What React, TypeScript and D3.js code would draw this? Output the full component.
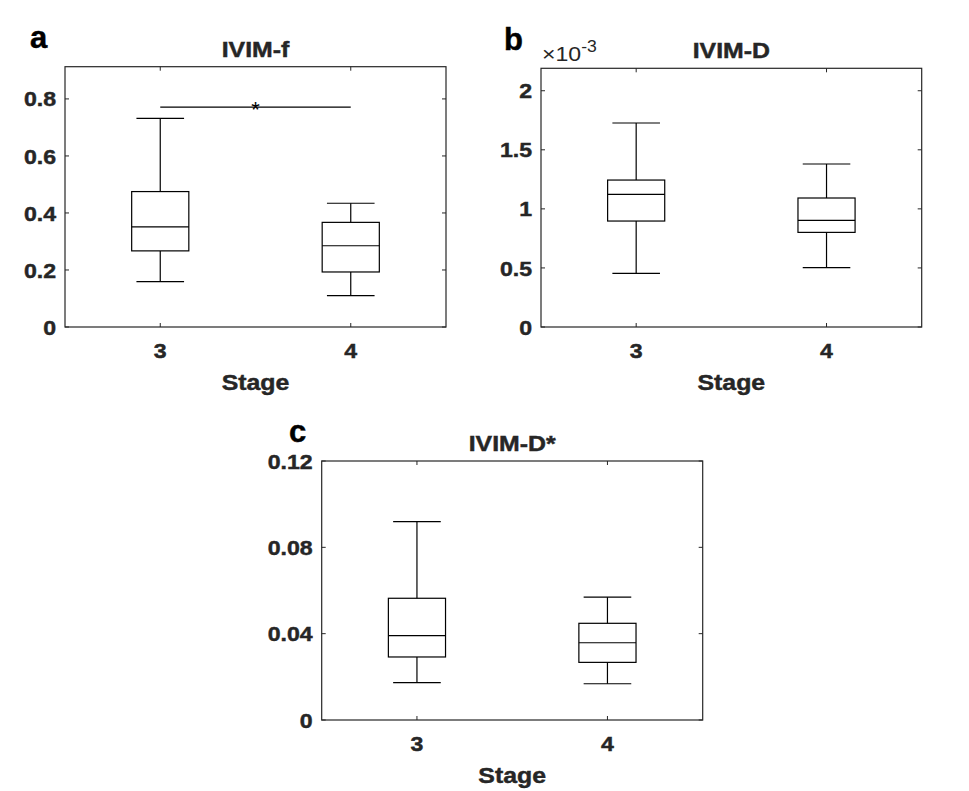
import React from 'react';
import * as d3 from 'd3';

// stage categories on x
const stages = ['3', '4'];

// five-number summaries per stage: [lower whisker, Q1, median, Q3, upper whisker]
const ivimF = [
  [0.159, 0.267, 0.351, 0.475, 0.732],
  [0.110, 0.193, 0.285, 0.367, 0.434],
];
const ivimD = [
  [0.454e-3, 0.897e-3, 1.123e-3, 1.244e-3, 1.727e-3],
  [0.502e-3, 0.801e-3, 0.903e-3, 1.092e-3, 1.380e-3],
];
const ivimDStar = [
  [0.0173, 0.0292, 0.0391, 0.0564, 0.0919],
  [0.0168, 0.0267, 0.0358, 0.0448, 0.0569],
];

// y ticks
const fTicks = [0, 0.2, 0.4, 0.6, 0.8];
const dTicks = [0, 0.5e-3, 1e-3, 1.5e-3, 2e-3];
const dStarTicks = [0, 0.04, 0.08, 0.12];

// significance bar on panel a (stage 3 vs 4)
const fSignificance = { from: '3', to: '4', y: 0.771, label: '*' };

const FONT = '"Liberation Sans", Arial, Helvetica, sans-serif';
const AXIS = '#262626';

// the source figure's text is a little wider and heavier than Arial
const Label: React.FC<{
  x: number; y: number; size: number; anchor?: string; bold?: boolean; sx?: number; dy?: string;
  fill?: string; children: React.ReactNode;
}> = ({ x, y, size, anchor = 'start', bold = true, sx = 1.1, dy, fill = AXIS, children }) => (
  <text
    transform={`translate(${x},${y}) scale(${sx},1)`}
    dy={dy}
    textAnchor={anchor}
    fontFamily={FONT}
    fontSize={size}
    fontWeight={bold ? 'bold' : 'normal'}
    fill={fill}
    stroke={bold ? fill : 'none'}
    strokeWidth={bold ? 0.45 : 0}
  >
    {children}
  </text>
);

interface PanelProps {
  data: number[][];
  ticks: number[];
  yMax: number;
  fmt: (v: number) => string;
  left: number;
  right: number;
  top: number;
  bottom: number;
  title: string;
  letter: string;
  letterX: number;
  letterY: number;
  exponent?: boolean;
  sig?: { from: string; to: string; y: number; label: string };
}

const Panel: React.FC<PanelProps> = ({
  data, ticks, yMax, fmt, left, right, top, bottom, title, letter, letterX, letterY, exponent, sig,
}) => {
  const x = d3.scalePoint<string>().domain(stages).range([left, right]).padding(0.5);
  const y = d3.scaleLinear().domain([0, yMax]).range([bottom, top]);
  const step = x.step();
  const boxW = step * 0.3;
  const capW = step * 0.125;
  const tickLen = 4;
  const cx = (left + right) / 2;

  return (
    <g>
      <Label x={letterX} y={letterY} size={31} sx={1} fill="#000">{letter}</Label>
      <Label x={cx} y={top - 10} size={22} sx={1.13} anchor="middle">{title}</Label>
      {exponent && (
        <Label x={left + 1} y={top - 7} size={21} sx={1.1} bold={false}>
          ×10<tspan dy={-9} fontSize={16}>-3</tspan>
        </Label>
      )}

      {/* axes box */}
      <rect x={left} y={top} width={right - left} height={bottom - top} fill="none" stroke={AXIS} strokeWidth={1.2} />

      {ticks.map(t => (
        <g key={t}>
          <line x1={left} x2={left + tickLen} y1={y(t)} y2={y(t)} stroke={AXIS} />
          <line x1={right} x2={right - tickLen} y1={y(t)} y2={y(t)} stroke={AXIS} />
          <Label x={left - 9} y={y(t)} dy="0.36em" size={21} anchor="end">{fmt(t)}</Label>
        </g>
      ))}
      {stages.map(s => (
        <g key={s}>
          <line x1={x(s)} x2={x(s)} y1={bottom} y2={bottom - tickLen} stroke={AXIS} />
          <line x1={x(s)} x2={x(s)} y1={top} y2={top + tickLen} stroke={AXIS} />
          <Label x={x(s) as number} y={bottom + 31} size={21} anchor="middle">{s}</Label>
        </g>
      ))}
      <Label x={cx} y={bottom + 63} size={22} sx={1.13} anchor="middle">Stage</Label>

      {/* boxes */}
      {data.map((d, i) => {
        const px = x(stages[i]) as number;
        const [lo, q1, med, q3, hi] = d;
        return (
          <g key={i} stroke="#000" strokeWidth={1.2} fill="none">
            <line x1={px} x2={px} y1={y(q3)} y2={y(hi)} />
            <line x1={px} x2={px} y1={y(q1)} y2={y(lo)} />
            <line x1={px - capW} x2={px + capW} y1={y(hi)} y2={y(hi)} />
            <line x1={px - capW} x2={px + capW} y1={y(lo)} y2={y(lo)} />
            <rect x={px - boxW / 2} y={y(q3)} width={boxW} height={y(q1) - y(q3)} />
            <line x1={px - boxW / 2} x2={px + boxW / 2} y1={y(med)} y2={y(med)} />
          </g>
        );
      })}

      {sig && (
        <g>
          <line x1={x(sig.from)} x2={x(sig.to)} y1={y(sig.y)} y2={y(sig.y)} stroke="#000" strokeWidth={1.2} />
          <Label x={((x(sig.from) as number) + (x(sig.to) as number)) / 2} y={y(sig.y) + 10} size={22} sx={1} bold={false} anchor="middle" fill="#000">{sig.label}</Label>
        </g>
      )}
    </g>
  );
};

export default function App() {
  return (
    <div style={{ position: 'absolute', left: 0, top: 0 }}>
      <svg width={969} height={791} style={{ display: 'block', background: '#fff' }}>
        <Panel
          data={ivimF} ticks={fTicks} yMax={0.913} fmt={v => (v === 0 ? '0' : d3.format('.1f')(v))}
          left={65} right={446} top={66.7} bottom={327}
          title="IVIM-f" letter="a" letterX={30} letterY={48}
          sig={fSignificance}
        />
        <Panel
          data={ivimD} ticks={dTicks} yMax={2.19e-3} fmt={v => d3.format('~g')(+(v / 1e-3).toFixed(2))}
          left={541} right={921.7} top={68.3} bottom={327}
          title="IVIM-D" letter="b" letterX={504} letterY={50}
          exponent
        />
        <Panel
          data={ivimDStar} ticks={dStarTicks} yMax={0.12} fmt={v => (v === 0 ? '0' : d3.format('.2f')(v))}
          left={321.7} right={702.7} top={461} bottom={720}
          title="IVIM-D*" letter="c" letterX={289} letterY={442}
        />
      </svg>
    </div>
  );
}
